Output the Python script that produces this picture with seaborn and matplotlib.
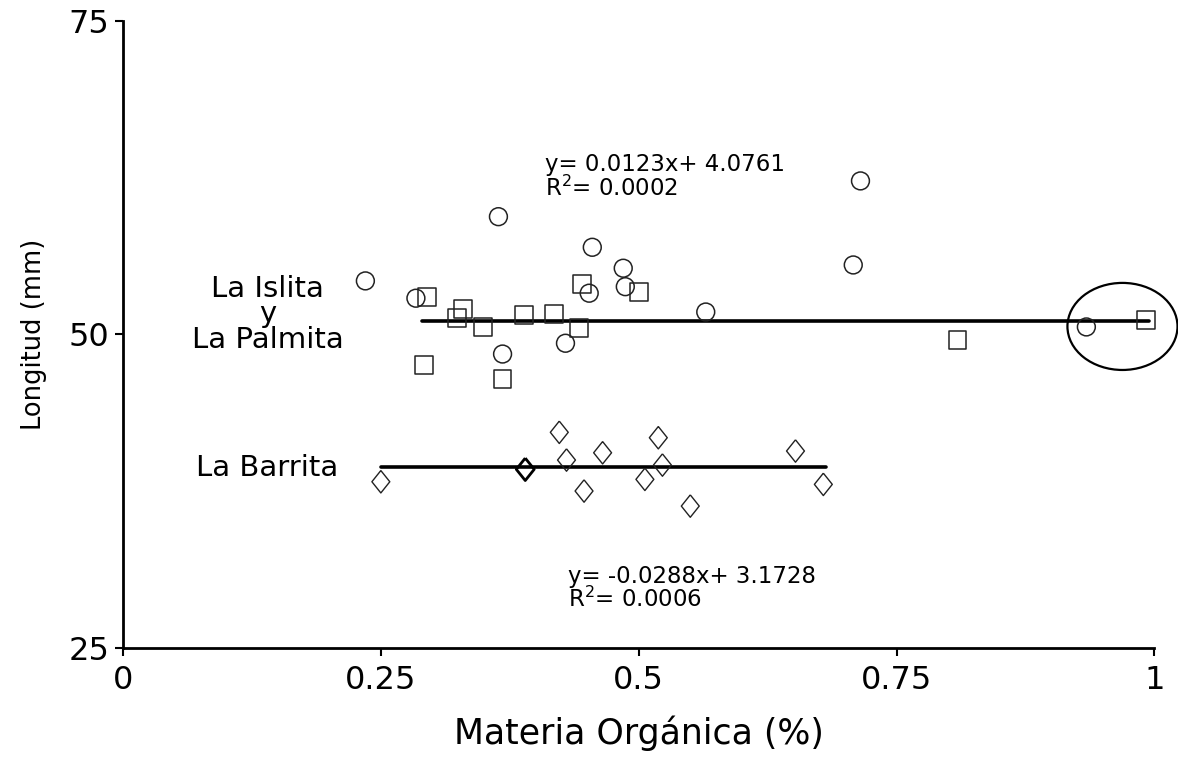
import numpy as np
import pandas as pd
import matplotlib
matplotlib.use("Agg")
import matplotlib.pyplot as plt
import seaborn as sns
from matplotlib.patches import Ellipse

# --- datos ---
islita_mo = [0.235, 0.284, 0.364, 0.455, 0.452, 0.485, 0.487, 0.429, 0.368, 0.565, 0.708, 0.715, 0.934]
islita_lon = [54.27, 52.89, 59.39, 56.95, 53.29, 55.28, 53.81, 49.30, 48.44, 51.79, 55.54, 62.24, 50.60]

palmita_mo = [0.295, 0.330, 0.324, 0.349, 0.389, 0.418, 0.442, 0.445, 0.292, 0.368, 0.500, 0.809, 0.992]
palmita_lon = [53.01, 52.01, 51.34, 50.62, 51.53, 51.63, 50.49, 54.00, 47.57, 46.45, 53.39, 49.56, 51.16]

barrita_mo = [0.423, 0.519, 0.465, 0.652, 0.430, 0.523, 0.250, 0.506, 0.679, 0.447, 0.550]
barrita_lon = [42.20, 41.77, 40.57, 40.71, 39.99, 39.59, 38.26, 38.45, 38.05, 37.52, 36.32]

# punto resaltado de La Barrita (mas grueso)
barrita_dest_mo = [0.390]
barrita_dest_lon = [39.25]

# rectas de regresion (extremos leidos)
fit_sup_x = [0.29, 0.995]
fit_sup_y = [51.05, 51.05]
fit_inf_x = [0.25, 0.682]
fit_inf_y = [39.45, 39.45]

eq_sup = "y= 0.0123x+ 4.0761\nR$^2$= 0.0002"
eq_inf = "y= -0.0288x+ 3.1728\nR$^2$= 0.0006"

xticks = [0, 0.25, 0.5, 0.75, 1]
xticklabels = ["0", "0.25", "0.5", "0.75", "1"]
yticks = [25, 50, 75]

# ================================
# FIGURA
# ================================
sns.set_style("white")
plt.rcParams['font.family'] = ['DejaVu Sans']
plt.rcParams['text.color'] = 'black'
plt.rcParams['axes.labelcolor'] = 'black'
plt.rcParams['xtick.color'] = 'black'
plt.rcParams['ytick.color'] = 'black'

fig = plt.figure(figsize=(11.78, 7.58), dpi=100)
ax = fig.add_axes([0.1044, 0.145, 0.8756, 0.8275])

diamante = [(0, 1), (0.8, 0), (0, -1), (-0.8, 0), (0, 1)]

sns.scatterplot(x=islita_mo, y=islita_lon, marker="o", s=165, color="black",
                facecolors="none", edgecolor="#222222", linewidth=1.1, ax=ax,
                zorder=3, clip_on=False)
sns.scatterplot(x=palmita_mo, y=palmita_lon, marker="s", s=165, color="black",
                facecolors="none", edgecolor="#222222", linewidth=1.1, ax=ax,
                zorder=3, clip_on=False)
sns.scatterplot(x=barrita_mo, y=barrita_lon, marker=diamante, s=260, color="black",
                facecolors="none", edgecolor="#222222", linewidth=1.0, ax=ax,
                zorder=3, clip_on=False)
sns.scatterplot(x=barrita_dest_mo, y=barrita_dest_lon, marker=diamante, s=260, color="black",
                facecolors="none", edgecolor="black", linewidth=2.0, ax=ax,
                zorder=4, clip_on=False)

sns.lineplot(x=fit_sup_x, y=fit_sup_y, color="black", linewidth=2.6, ax=ax, zorder=2)
sns.lineplot(x=fit_inf_x, y=fit_inf_y, color="black", linewidth=2.6, ax=ax, zorder=2)

# elipse alrededor de los puntos extremos
ax.add_patch(Ellipse((0.969, 50.64), width=0.1067, height=6.94, fill=False,
                     edgecolor="black", linewidth=1.6, clip_on=False, zorder=5))

# textos
ax.text(0.409, 62.55, eq_sup, fontsize=16.5, ha="left", va="center", linespacing=0.95)
ax.text(0.431, 29.75, eq_inf, fontsize=16.5, ha="left", va="center", linespacing=0.95)
ax.text(0.14, 51.6, "La Islita\ny\nLa Palmita", fontsize=21, ha="center", va="center",
        linespacing=0.88)
ax.text(0.14, 39.35, "La Barrita", fontsize=21, ha="center", va="center")

# ejes
ax.set_xlim(0, 1)
ax.set_ylim(25, 75)
ax.set_xticks(xticks)
ax.set_xticklabels(xticklabels)
ax.set_yticks(yticks)
ax.tick_params(axis="both", direction="out", length=6, width=1.5, labelsize=23,
               bottom=True, left=True, pad=4)
ax.tick_params(axis="x", pad=6)
for lado in ["top", "right"]:
    ax.spines[lado].set_visible(False)
for lado in ["left", "bottom"]:
    ax.spines[lado].set_linewidth(2)
    ax.spines[lado].set_color("black")

ax.set_xlabel("Materia Orgánica (%)", fontsize=25, labelpad=14)
ax.set_ylabel("Longitud (mm)", fontsize=18.5, labelpad=15)

fig.savefig("out.png", dpi=100, facecolor="white")
